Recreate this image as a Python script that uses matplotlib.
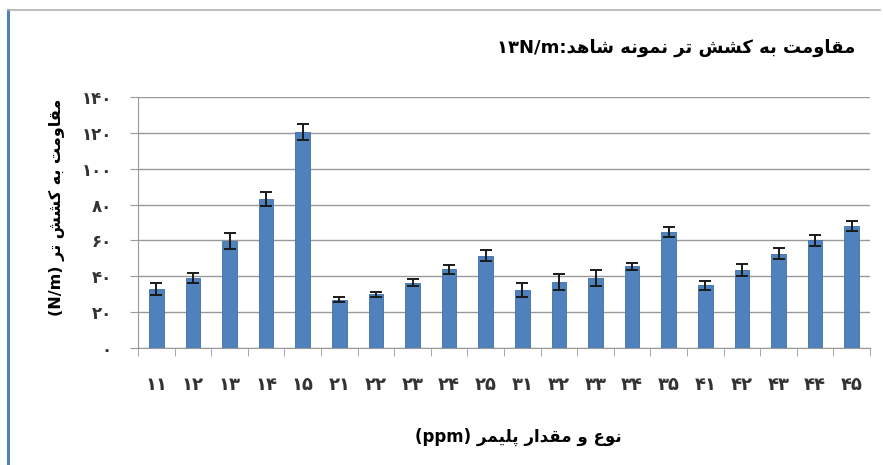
import matplotlib
matplotlib.use("Agg")
import matplotlib.pyplot as plt
from matplotlib.lines import Line2D
import numpy as np

# sample codes (polymer type + amount) and measured values
codes = ["11", "12", "13", "14", "15", "21", "22", "23", "24", "25",
         "31", "32", "33", "34", "35", "41", "42", "43", "44", "45"]
strength = [33, 39, 59.5, 83, 120.5, 27, 30, 36.5, 44, 51.5,
            32.5, 37, 39, 45.5, 64.5, 35, 43.5, 52.5, 60, 68]
errors = [3.5, 3, 4.5, 4, 4.5, 1.5, 1.3, 2, 2.5, 3,
          4, 4.5, 4.5, 2, 2.8, 2.5, 3.5, 3, 3, 3]
yticks = [0, 20, 40, 60, 80, 100, 120, 140]

title_fa = "مقاومت به کشش تر نمونه شاهد"
ylabel_fa = "مقاومت به کشش تر"
xlabel_fa = "نوع و مقدار پلیمر"

# presentation forms: isolated, final, initial, medial (None -> right-joining only)
FORMS = {
    "ا": ("\uFE8D", "\uFE8E", None, None),
    "ب": ("\uFE8F", "\uFE90", "\uFE91", "\uFE92"),
    "پ": ("\uFB56", "\uFB57", "\uFB58", "\uFB59"),
    "ت": ("\uFE95", "\uFE96", "\uFE97", "\uFE98"),
    "د": ("\uFEA9", "\uFEAA", None, None),
    "ر": ("\uFEAD", "\uFEAE", None, None),
    "ش": ("\uFEB5", "\uFEB6", "\uFEB7", "\uFEB8"),
    "ع": ("\uFEC9", "\uFECA", "\uFECB", "\uFECC"),
    "ق": ("\uFED5", "\uFED6", "\uFED7", "\uFED8"),
    "ک": ("\uFB8E", "\uFB8F", "\uFB90", "\uFB91"),
    "ل": ("\uFEDD", "\uFEDE", "\uFEDF", "\uFEE0"),
    "م": ("\uFEE1", "\uFEE2", "\uFEE3", "\uFEE4"),
    "ن": ("\uFEE5", "\uFEE6", "\uFEE7", "\uFEE8"),
    "ه": ("\uFEE9", "\uFEEA", "\uFEEB", "\uFEEC"),
    "و": ("\uFEED", "\uFEEE", None, None),
    "ی": ("\uFBFC", "\uFBFD", "\uFBFE", "\uFBFF"),
}


def shape_fa(text):
    """Join Persian letters and return them in visual (left-to-right) order."""
    out = []
    for i, ch in enumerate(text):
        if ch not in FORMS:
            out.append(ch)
            continue
        prev = text[i - 1] if i > 0 else ""
        nxt = text[i + 1] if i + 1 < len(text) else ""
        join_prev = prev in FORMS and FORMS[prev][2] is not None
        join_next = nxt in FORMS and FORMS[ch][2] is not None
        iso, fin, ini, med = FORMS[ch]
        if join_prev and join_next:
            out.append(med)
        elif join_prev:
            out.append(fin)
        elif join_next:
            out.append(ini)
        else:
            out.append(iso)
    return "".join(out)[::-1]


def fa_digits(s):
    return "".join("۰۱۲۳۴۵۶۷۸۹"[int(c)] if c.isdigit() else c for c in s)


plt.rcParams['font.family'] = ['DejaVu Sans']

fig = plt.figure(figsize=(8.83, 4.65), dpi=100)
ax = fig.add_axes([138 / 883, 117 / 465, 732 / 883, 251 / 465])

x = np.arange(len(codes))
ax.bar(x, strength, width=0.4, color="#4F81BD", edgecolor="#3E6FA8",
       linewidth=0.6, zorder=3)
ax.errorbar(x, strength, yerr=errors, fmt="none", ecolor="#1a1a1a",
            elinewidth=1.4, capsize=4.2, capthick=1.4, zorder=4)

ax.set_xlim(-0.5, len(codes) - 0.5)
ax.set_ylim(0, 140)
ax.set_yticks(yticks)
ax.set_yticklabels([fa_digits(str(v)) for v in yticks], fontsize=12,
                   fontweight="bold", color="#333333")
ax.yaxis.grid(True, color="#999999", linewidth=1.0, zorder=0)
ax.tick_params(axis="y", length=6, color="#999999", pad=13)

ax.set_xticks(x)
ax.set_xticklabels([fa_digits(c) for c in codes], fontsize=13,
                   fontweight="bold", color="#333333")
ax.tick_params(axis="x", which="major", length=0, pad=20)
ax.set_xticks(np.arange(-0.5, len(codes)), minor=True)
ax.tick_params(axis="x", which="minor", length=6, color="#999999")

for side in ["top", "right"]:
    ax.spines[side].set_visible(False)
for side in ["left", "bottom"]:
    ax.spines[side].set_color("#999999")

# titles and axis labels
fig.text(855 / 883, 1 - 48 / 465, "۱۳N/m:" + shape_fa(title_fa),
         ha="right", va="center", fontsize=13, fontweight="bold")
fig.text(57 / 883, 1 - 207 / 465, "(N/m) " + shape_fa(ylabel_fa),
         ha="center", va="center", rotation=90, fontsize=11.5, fontweight="bold")
fig.text(518 / 883, 1 - 437 / 465, "(ppm) " + shape_fa(xlabel_fa),
         ha="center", va="center", fontsize=12, fontweight="bold")

# frame lines of the original figure box
fig.add_artist(Line2D([8 / 883, 8 / 883], [0, 1 - 10 / 465],
                      transform=fig.transFigure, color="#4F81BD", linewidth=2.2))
fig.add_artist(Line2D([8 / 883, 880 / 883], [1 - 10 / 465, 1 - 10 / 465],
                      transform=fig.transFigure, color="#b0b0b0", linewidth=1.2))

fig.savefig("out.png", dpi=100)
